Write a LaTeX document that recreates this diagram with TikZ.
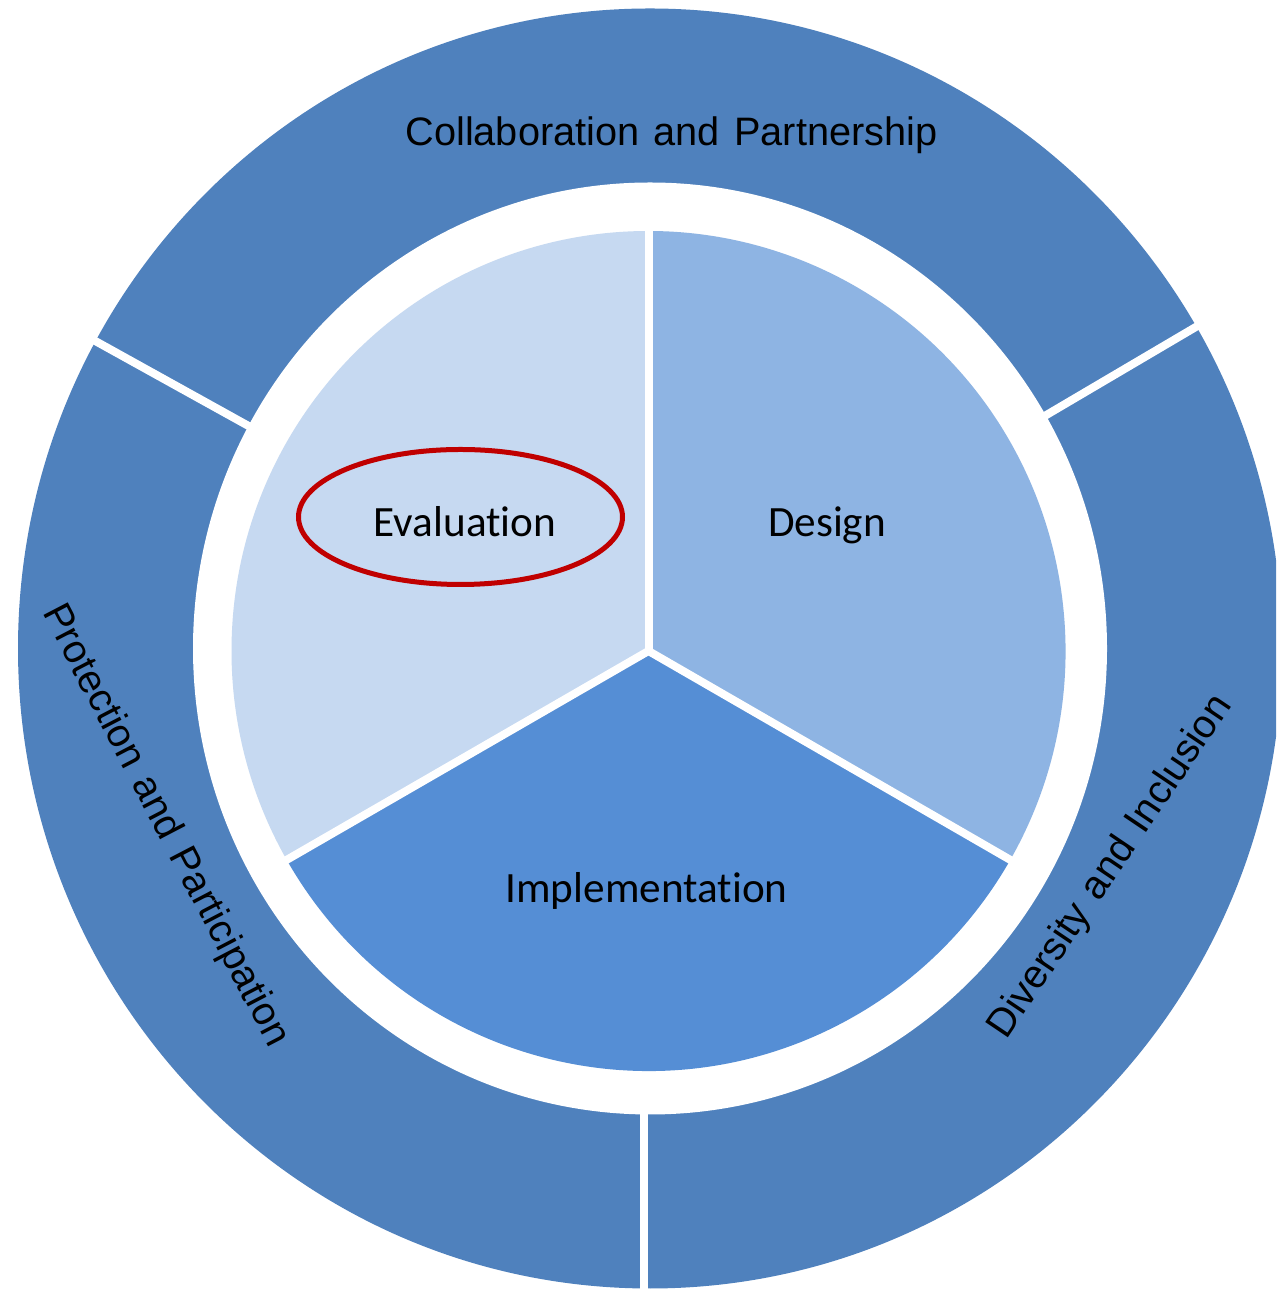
\documentclass[tikz,border=0pt]{standalone}
\usepackage{fontspec}
\usetikzlibrary{calc}
\setmainfont{Liberation Sans}
\newfontfamily\ringfont[WordSpace=1.3]{Liberation Sans}
\newfontfamily\calibrifont[Ligatures={NoCommon}]{Carlito}
\definecolor{ringblue}{HTML}{4F81BD}
\definecolor{evalblue}{HTML}{C6D9F1}
\definecolor{designblue}{HTML}{8EB4E3}
\definecolor{implblue}{HTML}{558ED5}
\definecolor{markred}{HTML}{C00000}
\tikzset{
  gapline/.style={white, line width=0.16cm},
  ringtext/.style={font=\ringfont\fontsize{22.6}{27}\selectfont, text=black, inner sep=0pt},
  pietext/.style={font=\calibrifont\fontsize{24.6}{29}\selectfont, text=black, inner sep=0pt, anchor=base},
  markellipse/.style={draw=markred, line width=0.1cm}
}
\begin{document}
\begin{tikzpicture}[x=0.02cm,y=0.02cm]
\useasboundingbox (0,0) rectangle (1276,1291);
\clip (0,0) rectangle (1276,1291);
\fill[white] (0,0) rectangle (1276,1291);
% ring centre and pie centre (page y flipped: y = 1291 - py)
\coordinate (C) at (650,642.5);
\coordinate (P) at (648.5,640);
% outer ring
\fill[ringblue] (C) ellipse [x radius=632, y radius=640];
\fill[white] (C) ellipse [x radius=457, y radius=466];
% ring gaps
\draw[gapline] ($(C)+(30.5:440)$) -- ($(C)+(30.5:720)$);
\draw[gapline] ($(C)+(151:440)$) -- ($(C)+(151:720)$);
\draw[gapline] (644,200) -- (644,-20);
% pie wedges
\fill[evalblue] (P) -- +(90:417 and 420) arc[start angle=90, end angle=210, x radius=417, y radius=420] -- cycle;
\fill[implblue] (P) -- +(210:417 and 420) arc[start angle=210, end angle=330, x radius=417, y radius=420] -- cycle;
\fill[designblue] (P) -- +(330:417 and 420) arc[start angle=330, end angle=450, x radius=417, y radius=420] -- cycle;
% pie gaps
\draw[gapline] (P) -- +(90:440);
\draw[gapline] (P) -- +(210:440);
\draw[gapline] (P) -- +(330:440);
% ring labels
\node[ringtext, anchor=base] (collab) at (671.5,1145) {Collaboration and Partnership};
\node[ringtext, rotate=-62.5] (protect) at (165,465) {Protection and Participation};
\node[ringtext, rotate=56] (divers) at (1111,424) {Diversity and Inclusion};
% pie labels
\node[pietext] (eval) at (465,754) {Evaluation};
\node[pietext] (design) at (827,754) {Design};
\node[pietext] (impl) at (646.5,388) {Implementation};
% highlight
\draw[markellipse] (460.5,774) ellipse [x radius=162, y radius=67.5];
\end{tikzpicture}
\end{document}
